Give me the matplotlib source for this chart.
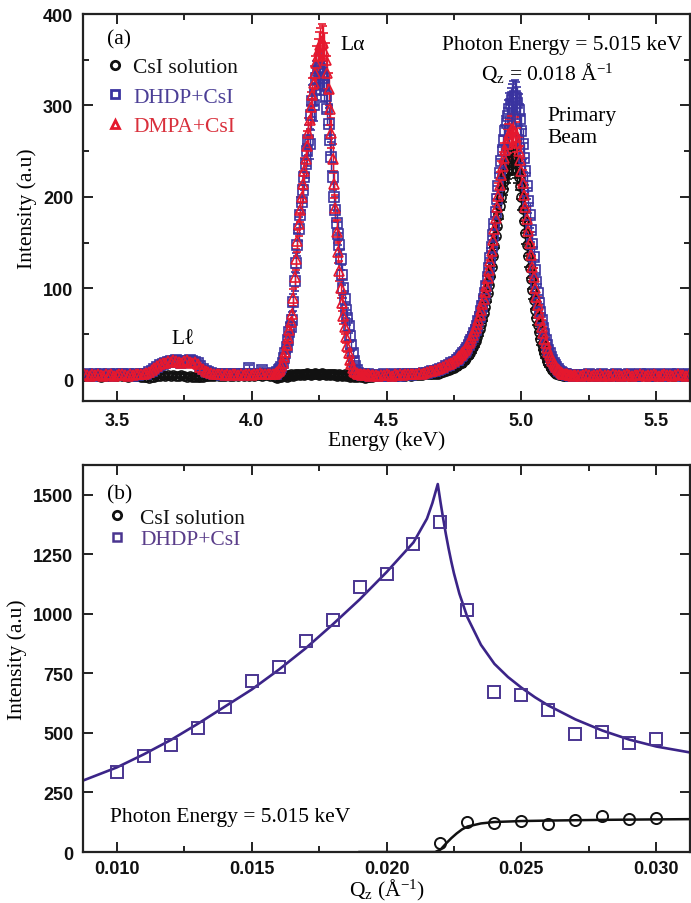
import numpy as np
import matplotlib
matplotlib.use('Agg')
import matplotlib.pyplot as plt
from matplotlib.lines import Line2D
from matplotlib.ticker import MultipleLocator, FormatStrFormatter

SERIF = ['Liberation Serif', 'DejaVu Serif']
SANS = ['Liberation Sans', 'DejaVu Sans']
plt.rcParams['font.family'] = SERIF
plt.rcParams['mathtext.fontset'] = 'custom'
plt.rcParams['mathtext.rm'] = 'Liberation Serif'
plt.rcParams['mathtext.it'] = 'Liberation Serif:italic'

# ---------------- Panel (a): fluorescence spectra ----------------
# energy grid segments (start keV, step keV); one value list per segment
seg_start = [3.38, 4.085, 4.46, 4.765, 5.21]
seg_step = [0.01, 0.005, 0.01, 0.005, 0.01]

dmpa_a = [
    # 3.38 - 4.08
    [6, 5, 4, 6, 5, 7, 5, 4, 6, 5, 6, 4, 5, 7, 6, 5, 4, 6, 5, 6,
     7, 6, 7, 8, 9, 11, 13, 15, 17, 18, 19, 21, 20, 22, 21, 20, 19, 21, 22, 20,
     19, 20, 17, 14, 12, 10, 9, 8, 7, 6, 7, 6, 5, 6, 5, 6, 7, 5, 6, 5,
     7, 6, 5, 6, 7, 8, 6, 7, 6, 7, 7],
    # 4.085 - 4.450
    [7, 8, 9, 10, 12, 15, 19, 25, 31, 38, 46, 55, 63, 72, 90, 112, 132, 152, 170, 186,
     200, 214, 228, 242, 256, 270, 284, 298, 312, 325, 336, 346, 354, 361, 366, 370, 368, 360, 350, 336,
     318, 296, 270, 242, 214, 188, 162, 140, 119, 100, 84, 70, 58, 47, 37, 29, 22, 17, 13, 10,
     9, 8, 7, 6, 6, 5, 6, 5, 5, 6, 5, 4, 5, 5],
    # 4.46 - 4.76
    [5, 4, 5, 5, 6, 5, 4, 6, 5, 6, 5, 6, 7, 6, 7, 6, 8, 7, 8, 9,
     10, 10, 11, 12, 13, 14, 16, 17, 19, 21, 23],
    # 4.765 - 5.200
    [24, 26, 27, 29, 31, 33, 35, 37, 40, 43, 46, 49, 53, 57, 61, 66, 71, 77, 83, 89,
     96, 103, 111, 120, 130, 141, 153, 165, 177, 189, 201, 213, 224, 234, 243, 251, 258, 264, 269, 272,
     274, 274, 271, 266, 259, 250, 240, 228, 215, 202, 189, 176, 163, 150, 137, 124, 112, 101, 91, 82,
     73, 65, 58, 51, 45, 40, 35, 31, 27, 24, 21, 18, 16, 14, 12, 11, 9, 8, 7, 7,
     6, 6, 5, 5, 5, 4, 5, 5],
    # 5.21 - 5.62
    [5, 4, 5, 6, 5, 4, 5, 5, 6, 4, 5, 5, 4, 6, 5, 5, 4, 5, 6, 5,
     4, 5, 5, 6, 5, 4, 5, 5, 6, 5, 4, 5, 6, 5, 5, 4, 5, 6, 5, 5, 4, 5],
]

dhdp_a = [
    [5, 6, 5, 4, 6, 5, 6, 5, 5, 6, 4, 5, 6, 5, 7, 5, 6, 5, 4, 6,
     5, 6, 6, 7, 9, 10, 12, 14, 16, 17, 19, 20, 21, 20, 22, 21, 19, 20, 21, 22,
     21, 20, 18, 15, 12, 10, 9, 8, 7, 6, 6, 5, 6, 5, 6, 5, 6, 6, 5, 7,
     6, 13, 6, 6, 7, 6, 11, 7, 6, 7, 8],
    [6, 7, 9, 11, 12, 14, 18, 24, 30, 36, 44, 52, 58, 66, 85, 108, 128, 148, 165, 180,
     195, 208, 222, 236, 250, 262, 258, 290, 305, 300, 318, 330, 338, 342, 340, 336, 330, 322, 310, 296,
     280, 262, 244, 222, 200, 186, 172, 160, 148, 132, 115, 100, 88, 76, 68, 59, 48, 38, 29, 21,
     15, 11, 8, 7, 6, 5, 6, 5, 5, 6, 5, 4, 5, 4],
    [4, 5, 4, 6, 5, 4, 5, 6, 5, 4, 6, 5, 6, 5, 6, 7, 6, 7, 8, 8,
     9, 10, 10, 11, 12, 13, 15, 16, 18, 20, 22],
    [22, 24, 26, 27, 29, 31, 33, 35, 38, 41, 44, 47, 51, 55, 59, 64, 69, 75, 81, 88,
     95, 103, 112, 122, 133, 145, 158, 171, 184, 198, 212, 226, 239, 251, 262, 272, 281, 289, 296, 302,
     306, 309, 310, 308, 303, 295, 285, 272, 258, 243, 228, 212, 196, 180, 164, 149, 134, 120, 107, 95,
     84, 74, 65, 57, 50, 44, 38, 33, 29, 25, 22, 19, 16, 14, 12, 10, 9, 8, 7, 6,
     6, 5, 5, 5, 4, 5, 4, 5],
    [5, 5, 4, 5, 6, 5, 5, 4, 5, 6, 5, 4, 5, 5, 6, 5, 4, 5, 5, 6,
     5, 5, 4, 6, 5, 5, 6, 4, 5, 5, 6, 5, 4, 5, 6, 5, 5, 6, 5, 4, 5, 6],
]

csi_a = [
    [4, 5, 4, 4, 5, 4, 3, 5, 4, 4, 5, 4, 4, 5, 4, 4, 3, 5, 4, 4,
     4, 3, 3, 3, 2, 3, 3, 4, 4, 5, 4, 5, 4, 5, 4, 4, 5, 4, 3, 4,
     3, 3, 3, 3, 3, 4, 4, 4, 4, 5, 4, 4, 4, 5, 4, 4, 5, 4, 5, 4,
     5, 4, 5, 4, 5, 5, 4, 5, 5, 4, 5],
    [3, 3, 2, 3, 4, 3, 4, 5, 4, 3, 5, 4, 6, 5, 4, 6, 5, 7, 6, 5,
     6, 7, 5, 6, 8, 6, 7, 5, 6, 7, 8, 6, 7, 5, 6, 8, 7, 6, 5, 7,
     6, 5, 7, 6, 5, 6, 4, 5, 6, 5, 4, 5, 6, 4, 5, 4, 3, 5, 4, 3,
     4, 3, 4, 5, 3, 4, 3, 2, 4, 3, 3, 4, 3, 4],
    [4, 4, 4, 5, 4, 4, 5, 4, 4, 5, 4, 4, 5, 4, 5, 5, 5, 5, 6, 6,
     6, 6, 7, 7, 8, 9, 10, 11, 12, 13, 15],
    [16, 17, 18, 19, 21, 22, 24, 26, 28, 30, 33, 36, 39, 43, 47, 51, 56, 61, 67, 73,
     80, 87, 95, 104, 114, 124, 135, 146, 157, 168, 179, 190, 200, 209, 217, 224, 230, 235, 239, 241,
     242, 242, 240, 236, 230, 222, 212, 200, 187, 174, 161, 148, 135, 122, 110, 98, 87, 77, 68, 60,
     52, 45, 39, 34, 29, 25, 21, 18, 15, 13, 11, 9, 8, 7, 6, 5, 5, 5, 4, 4,
     4, 4, 5, 4, 4, 5, 4, 4],
    [4, 4, 5, 4, 4, 5, 4, 4, 5, 4, 5, 4, 4, 5, 4, 4, 5, 4, 5, 4,
     4, 5, 4, 4, 5, 4, 5, 4, 4, 5, 4, 4, 5, 4, 5, 4, 4, 5, 4, 4, 5, 4],
]

# ---------------- Panel (b): intensity vs Qz ----------------
qz_dhdp = [0.010, 0.011, 0.012, 0.013, 0.014, 0.015, 0.016, 0.017, 0.018, 0.019, 0.020,
           0.021, 0.022, 0.023, 0.024, 0.025, 0.026, 0.027, 0.028, 0.029, 0.030]
int_dhdp = [335, 405, 450, 520, 610, 718, 775, 886, 975, 1113, 1168,
            1294, 1387, 1017, 672, 660, 597, 496, 504, 458, 475]
qz_csi = [0.022, 0.023, 0.024, 0.025, 0.026, 0.027, 0.028, 0.029, 0.030]
int_csi = [38, 126, 122, 130, 118, 134, 151, 139, 143]

fit_q_dhdp = [0.00875, 0.010, 0.011, 0.012, 0.013, 0.014, 0.015, 0.016, 0.017, 0.018,
              0.019, 0.020, 0.021, 0.0215, 0.0217, 0.0219, 0.0220, 0.0221, 0.0222, 0.0223,
              0.0224, 0.0225, 0.0227, 0.023, 0.0235, 0.024, 0.0245, 0.025, 0.0255, 0.026,
              0.027, 0.028, 0.029, 0.030, 0.03125]
fit_i_dhdp = [300, 355, 410, 470, 538, 610, 682, 765, 855, 955,
              1060, 1175, 1300, 1400, 1465, 1545, 1470, 1400, 1335, 1275,
              1220, 1170, 1085, 985, 870, 790, 735, 690, 650, 615,
              557, 510, 472, 443, 418]
fit_q_csi = [0.019, 0.0218, 0.0220, 0.0222, 0.0224, 0.0226, 0.0228, 0.0230, 0.0235,
             0.024, 0.025, 0.026, 0.028, 0.030, 0.03125]
fit_i_csi = [0, 0, 10, 35, 58, 78, 95, 107, 120, 126, 130, 132, 135, 137, 138]

C_BLACK = '#111111'
C_BLUE = '#3a33a0'
C_RED = '#e5182e'
C_PURPLE = '#3b2488'

def build(segs):
    xs, ys = [], []
    for st, sp, vals in zip(seg_start, seg_step, segs):
        n = len(vals)
        xs.append(st + sp * np.arange(n))
        ys.append(np.asarray(vals, dtype=float))
    return np.concatenate(xs), np.concatenate(ys)

fig = plt.figure(figsize=(6.91, 9.04), dpi=100)
axA = fig.add_axes([0.1201, 0.5553, 0.8785, 0.4281])
axB = fig.add_axes([0.1201, 0.0564, 0.8785, 0.4281])

series = [(csi_a, 'o', C_BLACK),
          (dhdp_a, 's', C_BLUE),
          (dmpa_a, '^', C_RED)]
for segs, mk, col in series:
    x, y = build(segs)
    err = np.sqrt(np.maximum(y, 1.0))
    axA.errorbar(x, y, yerr=err, fmt=mk, ls='none', color=col, mfc='none', mec=col,
                 ms=6.5, mew=1.2, elinewidth=1.0, capsize=3, capthick=1.0)

axA.set_xlim(3.375, 5.625)
axA.set_ylim(-23, 400)
axA.xaxis.set_major_locator(MultipleLocator(0.5))
axA.xaxis.set_minor_locator(MultipleLocator(0.25))
axA.yaxis.set_major_locator(MultipleLocator(100))
axA.yaxis.set_minor_locator(MultipleLocator(50))
axA.xaxis.set_major_formatter(FormatStrFormatter('%.1f'))
axA.yaxis.set_major_formatter(FormatStrFormatter('%d'))

axB.plot(fit_q_dhdp, fit_i_dhdp, '-', color=C_PURPLE, lw=1.9, zorder=2)
axB.plot(fit_q_csi, fit_i_csi, '-', color=C_BLACK, lw=1.8, zorder=2)
axB.plot(qz_dhdp, int_dhdp, 's', ls='none', mfc='none', mec='#4a3590', ms=8.5, mew=1.4, zorder=3)
axB.plot(qz_csi, int_csi, 'o', ls='none', mfc='none', mec=C_BLACK, ms=8, mew=1.4, zorder=3)
axB.set_xlim(0.00875, 0.03125)
axB.set_ylim(0, 1625)
axB.xaxis.set_major_locator(MultipleLocator(0.005))
axB.xaxis.set_minor_locator(MultipleLocator(0.0025))
axB.yaxis.set_major_locator(MultipleLocator(250))
axB.xaxis.set_major_formatter(FormatStrFormatter('%.3f'))
axB.yaxis.set_major_formatter(FormatStrFormatter('%d'))

for ax in (axA, axB):
    for sp in ax.spines.values():
        sp.set_linewidth(1.6)
        sp.set_color('#222222')
    ax.tick_params(which='both', direction='in', top=True, right=True, color='#222222',
                   width=1.4, labelsize=13, labelcolor='#111111')
    ax.tick_params(which='major', length=7, pad=7)
    ax.tick_params(which='minor', length=4)
    plt.setp(ax.get_xticklabels() + ax.get_yticklabels(), family=SANS, weight='bold')
axA.tick_params(axis='x', which='major', pad=8)
axB.tick_params(axis='x', which='major', pad=6)

FS = 15.5
axA.set_xlabel('Energy (keV)', fontsize=FS, labelpad=1)
axA.set_ylabel('Intensity (a.u)', fontsize=FS, labelpad=4)
axB.set_xlabel(r'Q$_\mathrm{z}$ (Å$^{-1}$)', fontsize=FS, labelpad=0)
axB.set_ylabel('Intensity (a.u)', fontsize=FS, labelpad=4)

# annotations panel (a)
axA.text(0.04, 0.935, '(a)', transform=axA.transAxes, fontsize=FS, ha='left', va='center')
axA.text(4.33, 367, 'Lα', fontsize=FS, ha='left', va='center')
axA.text(3.745, 45, 'Lℓ', fontsize=FS, ha='center', va='center', family=SERIF)
axA.text(5.597, 367, 'Photon Energy = 5.015 keV', fontsize=FS, ha='right', va='center')
axA.text(5.097, 337, r'Q$_\mathrm{z}$ = 0.018 Å$^{-1}$', fontsize=FS, ha='center', va='center')
axA.text(5.097, 289, 'Primary', fontsize=FS, ha='left', va='center')
axA.text(5.097, 265, 'Beam', fontsize=FS, ha='left', va='center')

hA = [Line2D([], [], ls='none', marker='o', mfc='none', mec=C_BLACK, ms=6, mew=2.0),
      Line2D([], [], ls='none', marker='s', mfc='none', mec=C_BLUE, ms=6, mew=2.0),
      Line2D([], [], ls='none', marker='^', mfc='none', mec=C_RED, ms=6, mew=2.0)]
legA = axA.legend(hA, ['CsI solution', 'DHDP+CsI', 'DMPA+CsI'], loc='upper left',
                  bbox_to_anchor=(0.0386, 0.888), borderpad=0, borderaxespad=0, frameon=False,
                  handlelength=0.8, handletextpad=0.45, labelspacing=0.43, fontsize=FS,
                  labelcolor=['#111111', '#4b3f96', '#d9303c'])

# annotations panel (b)
axB.text(0.0395, 0.925, '(b)', transform=axB.transAxes, fontsize=FS, ha='left', va='center')
axB.text(0.0445, 0.093, 'Photon Energy = 5.015 keV', transform=axB.transAxes, fontsize=FS,
         ha='left', va='center')
hB = [Line2D([], [], ls='none', marker='o', mfc='none', mec=C_BLACK, ms=6, mew=2.0),
      Line2D([], [], ls='none', marker='s', mfc='none', mec='#4a3590', ms=6, mew=1.8)]
legB = axB.legend(hB, ['CsI solution', 'DHDP+CsI'], loc='upper left',
                  bbox_to_anchor=(0.0418, 0.890), borderpad=0, borderaxespad=0, frameon=False,
                  handlelength=0.8, handletextpad=0.68, labelspacing=0.08, fontsize=FS,
                  labelcolor=['#111111', '#5a3d8a'])

fig.savefig('out.png', dpi=100)
